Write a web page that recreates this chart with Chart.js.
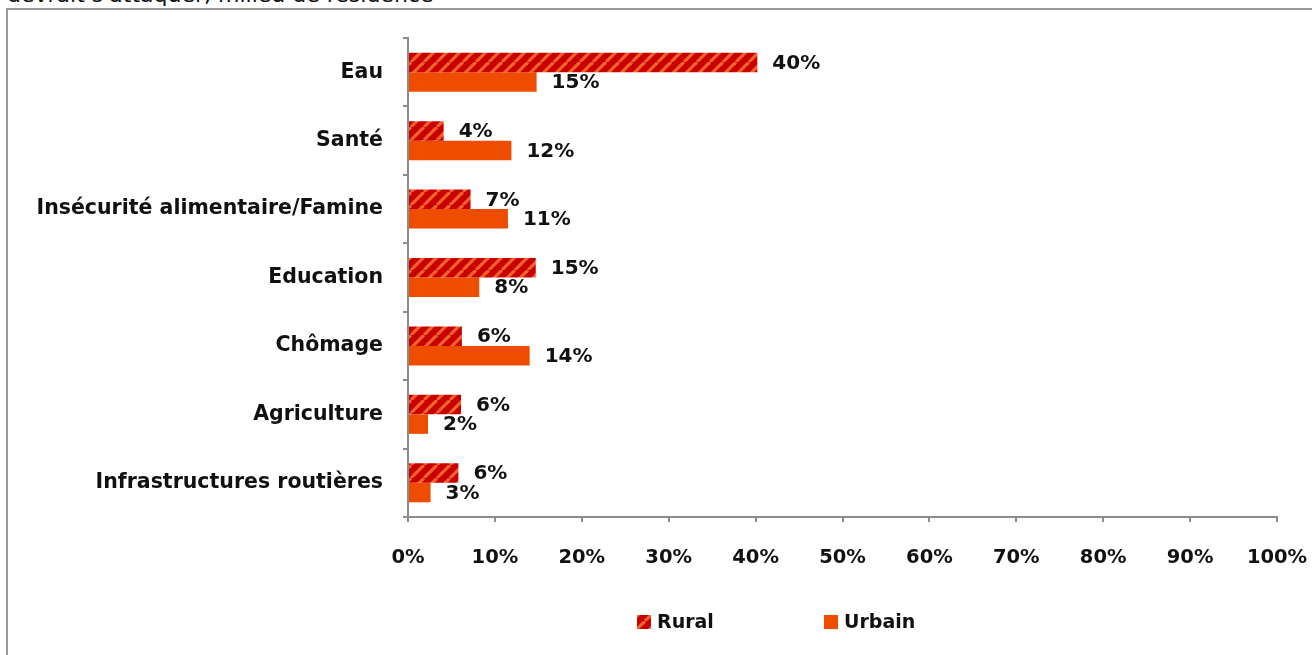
<!DOCTYPE html>
<html>
<head>
<meta charset="utf-8">
<script src="https://cdn.jsdelivr.net/npm/chart.js@4.4.1/dist/chart.umd.min.js"></script>
<style>
  html, body { margin: 0; padding: 0; background: #fff; overflow: hidden; width: 1312px; height: 655px; }
  #caption {
    position: absolute; left: 7px; top: -18px;
    font-family: "DejaVu Sans", sans-serif; font-size: 22px; color: #111;
    white-space: nowrap;
  }
  #frame {
    position: absolute; left: 6px; top: 8px;
    width: 1560px; height: 700px;
    border: 2px solid #9a9a9a;
  }
  canvas { display: block; }
</style>
</head>
<body>
<div id="caption">devrait s'attaquer, milieu de résidence</div>
<div id="frame"><canvas id="c" width="1560" height="700"></canvas></div>
<script>
const categories = [
  "Eau",
  "Santé",
  "Insécurité alimentaire/Famine",
  "Education",
  "Chômage",
  "Agriculture",
  "Infrastructures routières",
];
const rural = [40, 4, 7, 15, 6, 6, 6];
const urbain = [15, 12, 11, 8, 14, 2, 3];
// bar lengths (labels show rounded values)
const ruralLen = [40.2, 4.1, 7.2, 14.7, 6.2, 6.1, 5.8];
const urbainLen = [14.8, 11.9, 11.5, 8.2, 14.0, 2.3, 2.6];
const seriesNames = ["Rural", "Urbain"];

const FONT = "DejaVu Sans";

function stripes() {
  const n = 13;
  const t = document.createElement("canvas");
  t.width = n;
  t.height = n;
  const g = t.getContext("2d");
  g.fillStyle = "#c80000";
  g.fillRect(0, 0, n, n);
  g.strokeStyle = "#f5612a";
  g.lineWidth = 3.2;
  for (const o of [-n, 0, n]) {
    g.beginPath();
    g.moveTo(o, n);
    g.lineTo(o + n, 0);
    g.stroke();
  }
  return g.createPattern(t, "repeat");
}

const valueLabels = {
  id: "valueLabels",
  afterDatasetsDraw(chart) {
    const ctx = chart.ctx;
    ctx.save();
    ctx.font = "bold 20px " + FONT;
    ctx.fillStyle = "#111";
    ctx.textAlign = "left";
    ctx.textBaseline = "middle";
    const shown = [rural, urbain];
    chart.data.datasets.forEach((ds, di) => {
      chart.getDatasetMeta(di).data.forEach((el, i) => {
        ctx.fillText(shown[di][i] + "%", el.x + 15, el.y + 1);
      });
    });
    ctx.restore();
  },
};

const bottomLegend = {
  id: "bottomLegend",
  afterDraw(chart) {
    const ctx = chart.ctx;
    const a = chart.chartArea;
    ctx.save();
    ctx.font = "bold 19px " + FONT;
    ctx.textBaseline = "middle";
    chart.data.datasets.forEach((ds, i) => {
      const x = a.left + 229 + i * 187;
      const y = a.bottom + 105;
      ctx.fillStyle = ds.backgroundColor;
      ctx.fillRect(x, y - 7, 14, 14);
      ctx.fillStyle = "#111";
      ctx.fillText(ds.label, x + 20, y + 1);
    });
    ctx.restore();
  },
};

new Chart(document.getElementById("c"), {
  type: "bar",
  data: {
    labels: categories,
    datasets: [
      {
        label: seriesNames[0],
        data: ruralLen,
        backgroundColor: stripes(),
        borderWidth: 0,
        categoryPercentage: 0.57,
        barPercentage: 1.0,
      },
      {
        label: seriesNames[1],
        data: urbainLen,
        backgroundColor: "#ee4d00",
        borderWidth: 0,
        categoryPercentage: 0.57,
        barPercentage: 1.0,
      },
    ],
  },
  options: {
    indexAxis: "y",
    responsive: false,
    animation: false,
    layout: { padding: { top: 28, left: 8, right: 291, bottom: 0 } },
    plugins: {
      legend: { display: false },
      tooltip: { enabled: false },
    },
    scales: {
      x: {
        min: 0,
        max: 100,
        afterFit: (s) => { s.height = 193; },
        ticks: {
          stepSize: 10,
          padding: 24,
          color: "#111",
          font: { family: FONT, weight: "bold", size: 19.5 },
          callback: (v) => v + "%",
        },
        grid: {
          drawOnChartArea: false,
          tickLength: 5,
          color: "#8c8c8c",
          lineWidth: 2,
        },
        border: { color: "#8c8c8c", width: 2 },
      },
      y: {
        afterFit: (s) => {
          s.width = 392;
          s.paddingTop = 0;
          s.paddingBottom = 0;
        },
        ticks: {
          padding: 20,
          color: "#111",
          font: { family: FONT, weight: "bold", size: 20.5 },
        },
        grid: {
          drawOnChartArea: false,
          offset: true,
          tickLength: 5,
          color: "#8c8c8c",
          lineWidth: 2,
        },
        border: { color: "#8c8c8c", width: 2 },
      },
    },
  },
  plugins: [valueLabels, bottomLegend],
});
</script>
</body>
</html>
